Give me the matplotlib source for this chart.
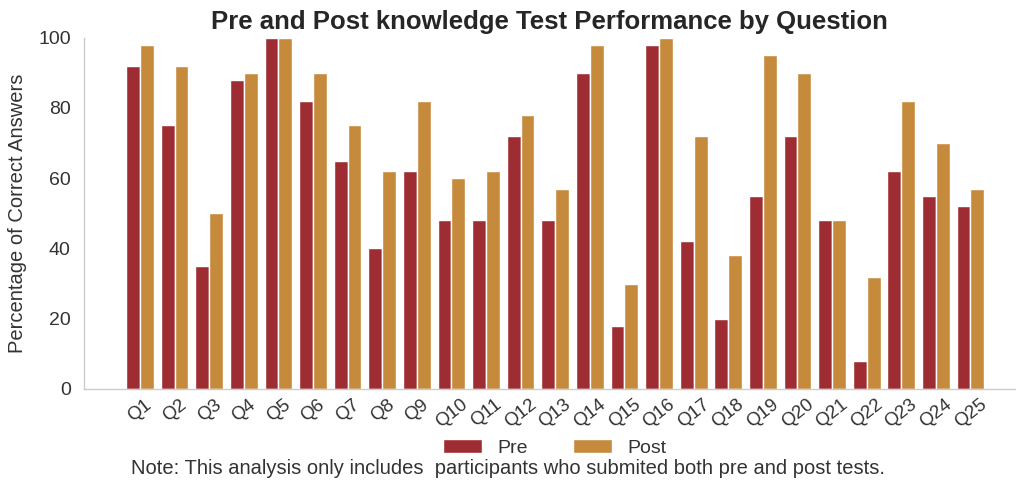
import matplotlib
matplotlib.use("Agg")
import matplotlib.pyplot as plt
import numpy as np

questions = [f"Q{i}" for i in range(1, 26)]
pre = [92, 75, 35, 88, 100, 82, 65, 40, 62, 48, 48, 72, 48, 90, 18, 98, 42, 20, 55, 72, 48, 8, 62, 55, 52]
post = [98, 92, 50, 90, 100, 90, 75, 62, 82, 60, 62, 78, 57, 98, 30, 100, 72, 38, 95, 90, 48, 32, 82, 70, 57]
series_names = ["Pre", "Post"]
colors = ["#9E2D33", "#C68A3D"]

plt.rcParams['font.family'] = ['Liberation Sans', 'DejaVu Sans']
fig = plt.figure(figsize=(10.18, 4.82), dpi=100)
ax = fig.add_axes([0.0825, 0.193, 0.915, 0.729])

x = np.arange(len(questions))
w = 0.4
ax.bar(x - w/2, pre, width=w, color=colors[0], edgecolor="white", linewidth=1.0, label=series_names[0])
ax.bar(x + w/2, post, width=w, color=colors[1], edgecolor="white", linewidth=1.0, label=series_names[1])

ax.set_xlim(-1.62, 25.3)
ax.set_ylim(0, 100)
ax.set_yticks([0, 20, 40, 60, 80, 100])
ax.tick_params(axis='y', labelsize=14, colors='#333333', length=0, pad=9.5)
ax.set_xticks(x)
ax.set_xticklabels(questions, rotation=38, fontsize=13.5, color='#333333')
ax.tick_params(axis='x', length=0, pad=5)
ax.set_ylabel("Percentage of Correct Answers", fontsize=14.5, color='#333333', labelpad=8)
ax.set_title("Pre and Post knowledge Test Performance by Question", fontsize=18.5, fontweight='bold', color='#262626', pad=6)

for s in ['top', 'right']:
    ax.spines[s].set_visible(False)
for s in ['left', 'bottom']:
    ax.spines[s].set_color('#cccccc')
    ax.spines[s].set_linewidth(1.0)

leg = fig.legend(loc='center', bbox_to_anchor=(0.545, 0.071), ncol=2, frameon=False,
                 fontsize=14, handlelength=2.0, handleheight=0.7, columnspacing=2.3, handletextpad=0.8,
                 borderpad=0, labelspacing=0)
for t in leg.get_texts():
    t.set_color('#333333')
fig.text(0.499, 0.029, "Note: This analysis only includes  participants who submited both pre and post tests.",
         ha='center', va='center', fontsize=14.5, color='#333333')

fig.savefig("out.png", dpi=100)
